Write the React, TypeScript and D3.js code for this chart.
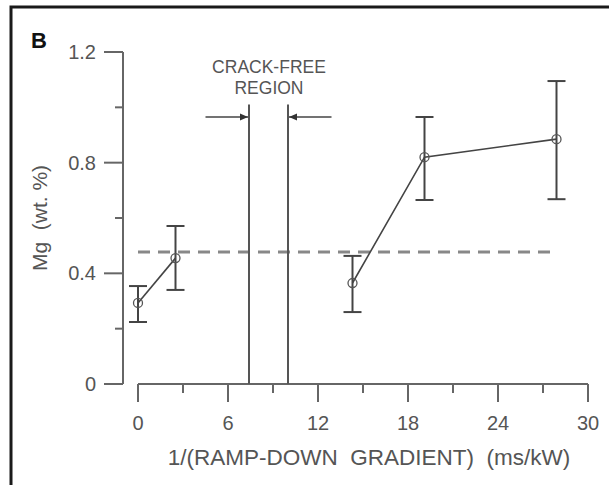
import React from "react";
import * as d3 from "d3";

const xVals = [0, 2.5, 14.3, 19.1, 27.9];
const yVals = [0.293, 0.455, 0.365, 0.82, 0.885];
const yLow = [0.224, 0.34, 0.26, 0.665, 0.668];
const yHigh = [0.354, 0.571, 0.463, 0.965, 1.095];
const segments = [[0, 1], [2, 3, 4]];
const yMajorTicks = [0, 0.4, 0.8, 1.2];
const yMinorTicks = [0.2, 0.6, 1.0];
const xMajorTicks = [0, 6, 12, 18, 24, 30];
const xMinorTicks = [3, 9, 15, 21, 27];
const thresholdY = 0.477;
const thresholdX = [0, 27.9];
const crackX = [7.4, 10.0];
const crackTop = 1.01;
const arrowY = 0.965;
const arrowOuter = [4.5, 12.9];

export default function App() {
  const x = d3.scaleLinear().domain([0, 30]).range([138, 588]);
  const y = d3.scaleLinear().domain([0, 1.2]).range([384, 52]);
  const axisColor = "#666";
  const textColor = "#555";
  const font = "Arial, 'Liberation Sans', sans-serif";
  const line = d3
    .line<number>()
    .x((i) => x(xVals[i]))
    .y((i) => y(yVals[i]));
  const yAxisX = 123;
  const xAxisY = y(0);

  return (
    <svg
      width={609}
      height={485}
      style={{ position: "absolute", left: 0, top: 0, background: "#fff" }}
    >
      <rect x={11} y={7} width={620} height={500} fill="none" stroke="#1a1a1a" strokeWidth={3} />
      <text x={31} y={48} fontFamily={font} fontWeight="bold" fontSize={22} fill="#111">
        B
      </text>

      {/* Y axis */}
      <line x1={yAxisX} x2={yAxisX} y1={y(1.2)} y2={y(0)} stroke={axisColor} strokeWidth={2} />
      {yMajorTicks.map((t) => (
        <g key={"ym" + t}>
          <line x1={yAxisX - 19} x2={yAxisX} y1={y(t)} y2={y(t)} stroke={axisColor} strokeWidth={2} />
          <text
            x={96}
            y={y(t)}
            dy="0.35em"
            textAnchor="end"
            fontFamily={font}
            fontSize={20}
            fill={textColor}
          >
            {t === 0 ? "0" : t.toFixed(1)}
          </text>
        </g>
      ))}
      {yMinorTicks.map((t) => (
        <line key={"yn" + t} x1={yAxisX - 8} x2={yAxisX} y1={y(t)} y2={y(t)} stroke={axisColor} strokeWidth={2} />
      ))}
      <text
        transform={`translate(47, 218) rotate(-90)`}
        textAnchor="middle"
        fontFamily={font}
        fontSize={21}
        fill={textColor}
        style={{ whiteSpace: "pre" }}
      >
        {"Mg  (wt. %)"}
      </text>

      {/* X axis */}
      <line x1={x(0)} x2={x(30)} y1={xAxisY} y2={xAxisY} stroke={axisColor} strokeWidth={2} />
      {xMajorTicks.map((t) => (
        <g key={"xm" + t}>
          <line x1={x(t)} x2={x(t)} y1={xAxisY} y2={xAxisY + 18} stroke={axisColor} strokeWidth={2} />
          <text
            x={x(t)}
            y={430}
            textAnchor="middle"
            fontFamily={font}
            fontSize={20}
            fill={textColor}
          >
            {t}
          </text>
        </g>
      ))}
      {xMinorTicks.map((t) => (
        <line key={"xn" + t} x1={x(t)} x2={x(t)} y1={xAxisY} y2={xAxisY + 9} stroke={axisColor} strokeWidth={2} />
      ))}
      <text
        x={369}
        y={465}
        textAnchor="middle"
        fontFamily={font}
        fontSize={22.5}
        fill={textColor}
        style={{ whiteSpace: "pre" }}
      >
        {"1/(RAMP-DOWN  GRADIENT)  (ms/kW)"}
      </text>

      {/* threshold dashed */}
      <line
        x1={x(thresholdX[0])}
        x2={x(thresholdX[1])}
        y1={y(thresholdY)}
        y2={y(thresholdY)}
        stroke="#888"
        strokeWidth={3}
        strokeDasharray="12 8"
      />

      {/* crack-free region */}
      {crackX.map((c) => (
        <line key={"c" + c} x1={x(c)} x2={x(c)} y1={y(crackTop)} y2={y(0)} stroke="#555" strokeWidth={2} />
      ))}
      <line x1={x(arrowOuter[0])} x2={x(crackX[0]) - 1} y1={y(arrowY)} y2={y(arrowY)} stroke="#444" strokeWidth={1.5} />
      <path
        d={`M${x(crackX[0]) - 1},${y(arrowY)} l-8,-3.5 l0,7 z`}
        fill="#333"
      />
      <line x1={x(arrowOuter[1])} x2={x(crackX[1]) + 1} y1={y(arrowY)} y2={y(arrowY)} stroke="#444" strokeWidth={1.5} />
      <path
        d={`M${x(crackX[1]) + 1},${y(arrowY)} l8,-3.5 l0,7 z`}
        fill="#333"
      />
      <text x={269} y={73} textAnchor="middle" fontFamily={font} fontSize={17.5} fill={textColor}>
        CRACK-FREE
      </text>
      <text x={269} y={94} textAnchor="middle" fontFamily={font} fontSize={17.5} fill={textColor}>
        REGION
      </text>

      {/* data lines */}
      {segments.map((s, i) => (
        <path key={"s" + i} d={line(s) || ""} fill="none" stroke="#444" strokeWidth={1.6} />
      ))}
      {/* error bars */}
      {xVals.map((xv, i) => (
        <g key={"e" + i} stroke="#444" strokeWidth={2}>
          <line x1={x(xv)} x2={x(xv)} y1={y(yLow[i])} y2={y(yHigh[i])} />
          <line x1={x(xv) - 9} x2={x(xv) + 9} y1={y(yLow[i])} y2={y(yLow[i])} />
          <line x1={x(xv) - 9} x2={x(xv) + 9} y1={y(yHigh[i])} y2={y(yHigh[i])} />
        </g>
      ))}
      {xVals.map((xv, i) => (
        <circle key={"p" + i} cx={x(xv)} cy={y(yVals[i])} r={4.5} fill="none" stroke="#555" strokeWidth={1.3} />
      ))}
    </svg>
  );
}
